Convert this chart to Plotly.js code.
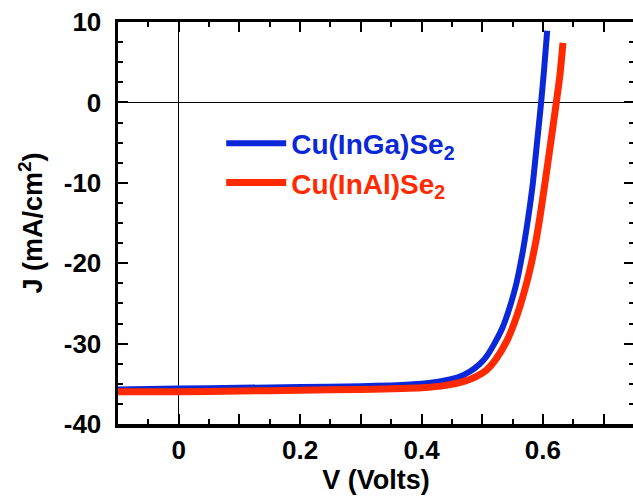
<!DOCTYPE html>
<html>
<head>
<meta charset="utf-8">
<script src="https://cdn.plot.ly/plotly-3.0.1.min.js"></script>
<style>
html,body{margin:0;padding:0;overflow:hidden;background:#fff;}
#chart{width:636px;height:502px;}
</style>
</head>
<body>
<div id="chart"></div>
<script>
// Cu(InGa)Se2 J-V curve
const cigsV = [-0.1, 0, 0.1, 0.2, 0.3, 0.35, 0.4, 0.43, 0.46, 0.479, 0.495, 0.507, 0.52, 0.534, 0.546, 0.556, 0.565, 0.574, 0.583, 0.590, 0.597, 0.602, 0.607];
const cigsJ = [-35.7, -35.6, -35.5, -35.4, -35.3, -35.2, -35.0, -34.7, -34.2, -33.5, -32.6, -31.6, -30.0, -27.9, -25.3, -22.6, -19.3, -15.2, -10.3, -5.2, 0.0, 4.2, 8.9];
// Cu(InAl)Se2 J-V curve
const ciasV = [-0.1, 0, 0.1, 0.2, 0.3, 0.4, 0.44, 0.47, 0.49, 0.507, 0.522, 0.541, 0.552, 0.562, 0.572, 0.581, 0.589, 0.596, 0.603, 0.613, 0.622, 0.628, 0.633];
const ciasJ = [-36.0, -36.0, -35.9, -35.8, -35.7, -35.5, -35.2, -34.7, -34.1, -33.3, -32.0, -29.6, -27.6, -25.4, -22.8, -20.0, -17.0, -13.8, -10.2, -4.9, 0.0, 3.4, 7.4];

const seriesNames = ['Cu(InGa)Se<sub>2</sub>', 'Cu(InAl)Se<sub>2</sub>'];
const seriesColors = ['#0a28d8', '#ff2a00'];

const xTickVals = [-0.1, 0, 0.1, 0.2, 0.3, 0.4, 0.5, 0.6, 0.7];
const xTickText = ['', '0', '', '0.2', '', '0.4', '', '0.6', ''];
const yTickVals = [10, 0, -10, -20, -30, -40];
const yTickText = ['10', '0', '-10', '-20', '-30', '-40'];

const FONT = 'Liberation Sans, Arial, Helvetica, sans-serif';

const traces = [
  {x: cigsV, y: cigsJ, mode: 'lines', type: 'scatter',
   name: '<span style="color:' + seriesColors[0] + '">' + seriesNames[0] + '</span>',
   line: {color: seriesColors[0], width: 6, shape: 'spline', smoothing: 0.6}},
  {x: ciasV, y: ciasJ, mode: 'lines', type: 'scatter',
   name: '<span style="color:' + seriesColors[1] + '">' + seriesNames[1] + '</span>',
   line: {color: seriesColors[1], width: 7, shape: 'spline', smoothing: 0.6}}
];

const axisCommon = {
  showgrid: false,
  showline: true, linecolor: '#000', linewidth: 3.5,
  mirror: 'allticks',
  ticks: 'inside', ticklen: 10, tickwidth: 2, tickcolor: '#000',
  zeroline: true, zerolinecolor: '#000', zerolinewidth: 1.3,
  tickfont: {family: FONT, size: 26, color: '#000', weight: 700},
  tickmode: 'array'
};

const layout = {
  width: 636, height: 502,
  margin: {l: 118, r: 2, t: 22, b: 78},
  paper_bgcolor: '#fff', plot_bgcolor: '#fff',
  showlegend: true,
  legend: {
    x: 0.2, y: 0.76, xanchor: 'left', yanchor: 'top',
    bgcolor: 'rgba(0,0,0,0)', borderwidth: 0,
    font: {family: FONT, size: 28, weight: 700},
    itemwidth: 60, tracegroupgap: 0
  },
  xaxis: Object.assign({}, axisCommon, {
    range: [-0.1, 0.75],
    tickvals: xTickVals, ticktext: xTickText,
    ticklabelstandoff: 0,
    minor: {dtick: 0.05, tick0: 0, ticks: 'inside', ticklen: 5, tickwidth: 2, tickcolor: '#000'},
    title: {text: 'V (Volts)', font: {family: FONT, size: 27, color: '#000', weight: 700}, standoff: 6}
  }),
  yaxis: Object.assign({}, axisCommon, {
    range: [-40, 10],
    tickvals: yTickVals, ticktext: yTickText,
    ticklabelstandoff: 8,
    minor: {dtick: 2.5, tick0: 0, ticks: 'inside', ticklen: 5, tickwidth: 2, tickcolor: '#000'},
    title: {text: 'J (mA/cm<sup>2</sup>)', font: {family: FONT, size: 27, color: '#000', weight: 700}, standoff: 14}
  })
};

Plotly.newPlot('chart', traces, layout, {displayModeBar: false, staticPlot: true});
</script>
</body>
</html>
